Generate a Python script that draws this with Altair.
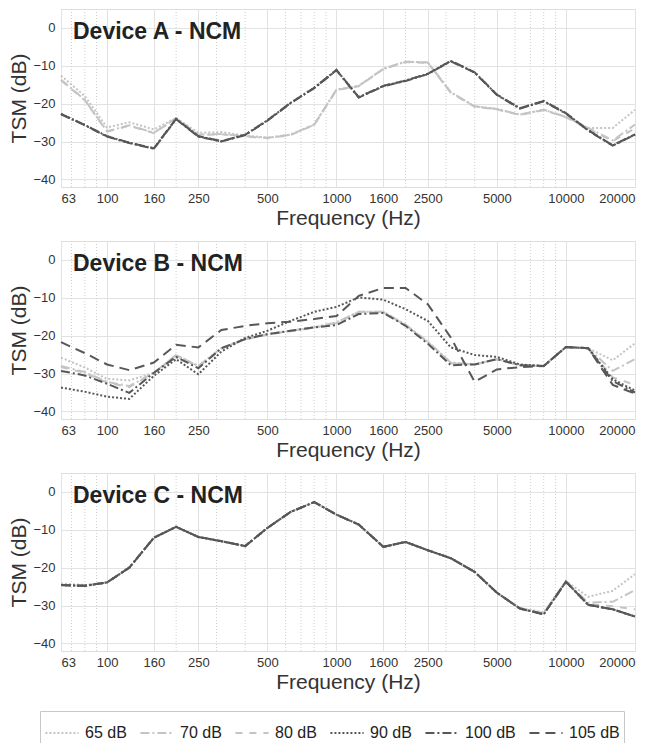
import altair as alt
import pandas as pd

FREQS = [63, 80, 100, 125, 160, 200, 250, 315, 400, 500, 630, 800, 1000, 1250,
         1600, 2000, 2500, 3150, 4000, 5000, 6300, 8000, 10000, 12500, 16000, 20000]
MAJOR_TICKS = [63, 100, 160, 250, 500, 1000, 1600, 2500, 5000, 10000, 20000]
MINOR_GRID = [70, 80, 90, 200, 300, 400, 600, 700, 800, 900,
              2000, 3000, 4000, 6000, 7000, 8000, 9000]
Y_TICKS = [-40, -30, -20, -10, 0]
SERIES = ["65 dB", "70 dB", "80 dB", "90 dB", "100 dB", "105 dB"]
COLORS = ["#c4c4c4", "#c4c4c4", "#c4c4c4", "#575757", "#575757", "#575757"]
DASHES = [[2, 2], [9, 3, 2, 3], [7, 7], [2, 2], [9, 3, 2, 3], [10, 6]]

# ---- Device A ----
A_65 = [-12.6, -18.0, -26.3, -24.9, -26.8, -23.8, -27.7, -27.5, -28.4, -29.0, -28.2, -25.5, -16.3,
        -15.3, -10.8, -8.9, -9.1, -17.0, -20.7, -21.4, -22.9, -21.6, -23.5, -26.4, -26.4, -21.6]
A_70 = [-13.7, -19.0, -27.3, -25.7, -27.7, -23.8, -28.2, -28.0, -28.6, -29.0, -28.2, -25.5, -16.3,
        -15.3, -10.8, -8.9, -9.1, -17.0, -20.7, -21.4, -22.9, -21.6, -23.5, -26.4, -29.7, -25.5]
A_80 = [-13.8, -19.1, -27.4, -25.8, -27.8, -23.9, -28.3, -28.1, -28.7, -29.1, -28.3, -25.6, -16.4,
        -15.4, -10.9, -9.0, -9.2, -17.1, -20.8, -21.5, -23.0, -21.7, -23.6, -26.6, -29.9, -26.5]
A_90 = [-22.7, -25.6, -28.6, -30.3, -31.8, -24.0, -28.6, -29.9, -28.2, -24.4, -19.8, -15.8, -11.1,
        -18.3, -15.3, -13.9, -12.1, -8.7, -11.7, -17.6, -21.2, -19.3, -22.5, -27.0, -31.0, -28.1]
A_100 = [-22.8, -25.7, -28.7, -30.4, -31.9, -24.1, -28.7, -30.0, -28.3, -24.5, -19.9, -15.9, -11.2,
         -18.4, -15.4, -14.0, -12.2, -8.8, -11.8, -17.7, -21.3, -19.4, -22.6, -27.1, -31.1, -28.2]
A_105 = [-22.7, -25.6, -28.6, -30.3, -31.8, -24.0, -28.6, -29.9, -28.2, -24.4, -19.8, -15.8, -11.1,
         -18.3, -15.3, -13.9, -12.1, -8.7, -11.7, -17.6, -21.2, -19.3, -22.5, -27.0, -31.0, -28.1]

# ---- Device B ----
B_65 = [-25.8, -28.4, -31.4, -31.8, -29.8, -25.1, -28.0, -23.3, -20.9, -19.6, -18.7, -17.8, -16.5,
        -13.7, -13.7, -17.1, -21.6, -27.1, -27.6, -26.2, -27.8, -28.0, -23.0, -23.3, -26.5, -22.0]
B_70 = [-28.0, -29.6, -32.2, -33.3, -29.8, -25.1, -28.0, -23.3, -20.9, -19.6, -18.7, -17.8, -16.5,
        -13.7, -13.7, -17.1, -21.6, -27.1, -27.6, -26.2, -27.8, -28.0, -23.0, -23.3, -29.3, -26.2]
B_80 = [-28.3, -29.8, -32.4, -33.6, -29.9, -25.3, -28.2, -23.4, -21.0, -19.7, -18.8, -17.9, -16.7,
        -13.9, -13.9, -17.2, -21.8, -27.3, -27.6, -26.2, -27.8, -28.0, -23.0, -23.3, -31.0, -33.0]
B_90 = [-33.7, -34.8, -36.1, -36.7, -30.6, -26.2, -30.2, -24.2, -20.6, -18.7, -16.1, -13.7, -12.4,
        -9.9, -10.5, -13.0, -16.1, -23.1, -25.1, -25.6, -27.6, -28.0, -23.0, -23.3, -31.5, -34.5]
B_100 = [-29.3, -30.5, -32.7, -35.1, -29.8, -25.6, -28.6, -23.3, -20.9, -19.6, -18.7, -17.8, -17.2,
         -14.3, -14.0, -17.4, -22.1, -27.8, -27.6, -26.2, -27.8, -28.0, -23.0, -23.3, -32.0, -35.0]
B_105 = [-21.7, -24.6, -27.6, -29.1, -27.1, -22.4, -23.1, -18.5, -17.4, -16.7, -16.3, -15.6, -14.8,
         -9.5, -7.4, -7.4, -11.7, -20.5, -32.2, -28.9, -28.3, -28.0, -23.0, -23.3, -33.0, -35.3]

# ---- Device C ----
C_65 = [-24.2, -24.6, -23.8, -20.0, -12.1, -9.2, -11.9, -13.0, -14.3, -9.5, -5.3, -2.7, -6.0,
        -8.6, -14.5, -13.2, -15.4, -17.5, -21.1, -26.6, -30.6, -31.8, -23.5, -27.7, -26.1, -21.7]
C_70 = [-24.5, -24.7, -23.9, -20.0, -12.1, -9.2, -11.9, -13.0, -14.3, -9.5, -5.3, -2.7, -6.0,
        -8.6, -14.5, -13.2, -15.4, -17.5, -21.1, -26.6, -30.7, -32.0, -23.6, -29.2, -29.0, -25.9]
C_80 = [-24.6, -24.8, -23.9, -20.0, -12.1, -9.2, -11.9, -13.0, -14.3, -9.5, -5.3, -2.7, -6.0,
        -8.6, -14.5, -13.2, -15.4, -17.5, -21.1, -26.6, -30.8, -32.2, -23.7, -29.6, -30.2, -31.0]
C_90 = [-24.6, -24.8, -23.9, -20.0, -12.1, -9.2, -11.9, -13.0, -14.3, -9.5, -5.3, -2.7, -6.0,
        -8.6, -14.5, -13.2, -15.4, -17.5, -21.1, -26.6, -30.8, -32.3, -23.7, -29.8, -31.0, -32.9]
C_100 = [-24.6, -24.8, -23.9, -20.0, -12.1, -9.2, -11.9, -13.0, -14.3, -9.5, -5.3, -2.7, -6.0,
         -8.6, -14.5, -13.2, -15.4, -17.5, -21.1, -26.6, -30.8, -32.3, -23.7, -29.8, -31.0, -32.9]
C_105 = [-24.6, -24.8, -23.9, -20.0, -12.1, -9.2, -11.9, -13.0, -14.3, -9.5, -5.3, -2.7, -6.0,
         -8.6, -14.5, -13.2, -15.4, -17.5, -21.1, -26.6, -30.8, -32.3, -23.7, -29.8, -31.0, -32.9]

FONT = "Liberation Sans"
W, H = 574, 178

x_scale = alt.Scale(type="log", domain=[63, 20000], nice=False)
y_scale = alt.Scale(domain=[-42, 5], nice=False, zero=False)

x_axis = alt.Axis(values=MAJOR_TICKS, format="d", title="Frequency (Hz)",
                  grid=True, gridColor="#e2e2e2", ticks=False, domain=False,
                  labelFontSize=13, labelColor="#333333", labelPadding=5,
                  titleFontSize=21, titleFontWeight="normal", titleColor="#333333",
                  titlePadding=2, labelFont=FONT, titleFont=FONT)
y_axis = alt.Axis(values=Y_TICKS, title="TSM (dB)", grid=True, gridColor="#e2e2e2",
                  ticks=False, domain=False, labelFontSize=13, labelColor="#333333",
                  labelPadding=6, titleFontSize=21, titleFontWeight="normal",
                  titleColor="#333333", titlePadding=3, labelFont=FONT, titleFont=FONT)

legend = alt.Legend(title=None, orient="none", legendX=-21, legendY=702,
                    direction="horizontal", symbolType="stroke", symbolSize=1100,
                    symbolStrokeWidth=2, labelFontSize=16, labelFont=FONT,
                    labelColor="#222222", columnPadding=9, labelOffset=5,
                    strokeColor="#c8c8c8", fillColor="white", padding=4)


def panel(label, lists):
    rows = []
    for i, (s, vals) in enumerate(zip(SERIES, lists)):
        for f, v in zip(FREQS, vals):
            rows.append({"series": s, "freq": f, "tsm": v, "k": i})
    df = pd.DataFrame(rows)

    minor = alt.Chart(pd.DataFrame({"freq": MINOR_GRID})).mark_rule(
        color="#d0d0d0", strokeDash=[1, 2], strokeWidth=1
    ).encode(x=alt.X("freq:Q", scale=x_scale, axis=x_axis))

    lines = alt.Chart(df).mark_line(strokeWidth=2).encode(
        x=alt.X("freq:Q", scale=x_scale, axis=x_axis),
        y=alt.Y("tsm:Q", scale=y_scale, axis=y_axis),
        color=alt.Color("series:N", scale=alt.Scale(domain=SERIES, range=COLORS),
                        legend=legend),
        strokeDash=alt.StrokeDash("series:N", scale=alt.Scale(domain=SERIES, range=DASHES),
                                  legend=legend),
        detail="k:O",
    )

    text = alt.Chart(pd.DataFrame({"t": [label]})).mark_text(
        align="left", baseline="alphabetic", fontSize=23, fontWeight="bold",
        font=FONT, color="#222222"
    ).encode(text="t:N", x=alt.value(12), y=alt.value(30))

    return alt.layer(minor, lines, text).properties(width=W, height=H)


chart = alt.vconcat(
    panel("Device A - NCM", [A_65, A_70, A_80, A_90, A_100, A_105]),
    panel("Device B - NCM", [B_65, B_70, B_80, B_90, B_100, B_105]),
    panel("Device C - NCM", [C_65, C_70, C_80, C_90, C_100, C_105]),
    spacing=11,
).properties(
    padding={"left": 0, "top": 0, "right": 3, "bottom": 0}
).configure_view(
    stroke="#a8a8a8", strokeWidth=1
).configure(background="white")

chart.save("out.html", embed_options={"renderer": "svg", "actions": False})
